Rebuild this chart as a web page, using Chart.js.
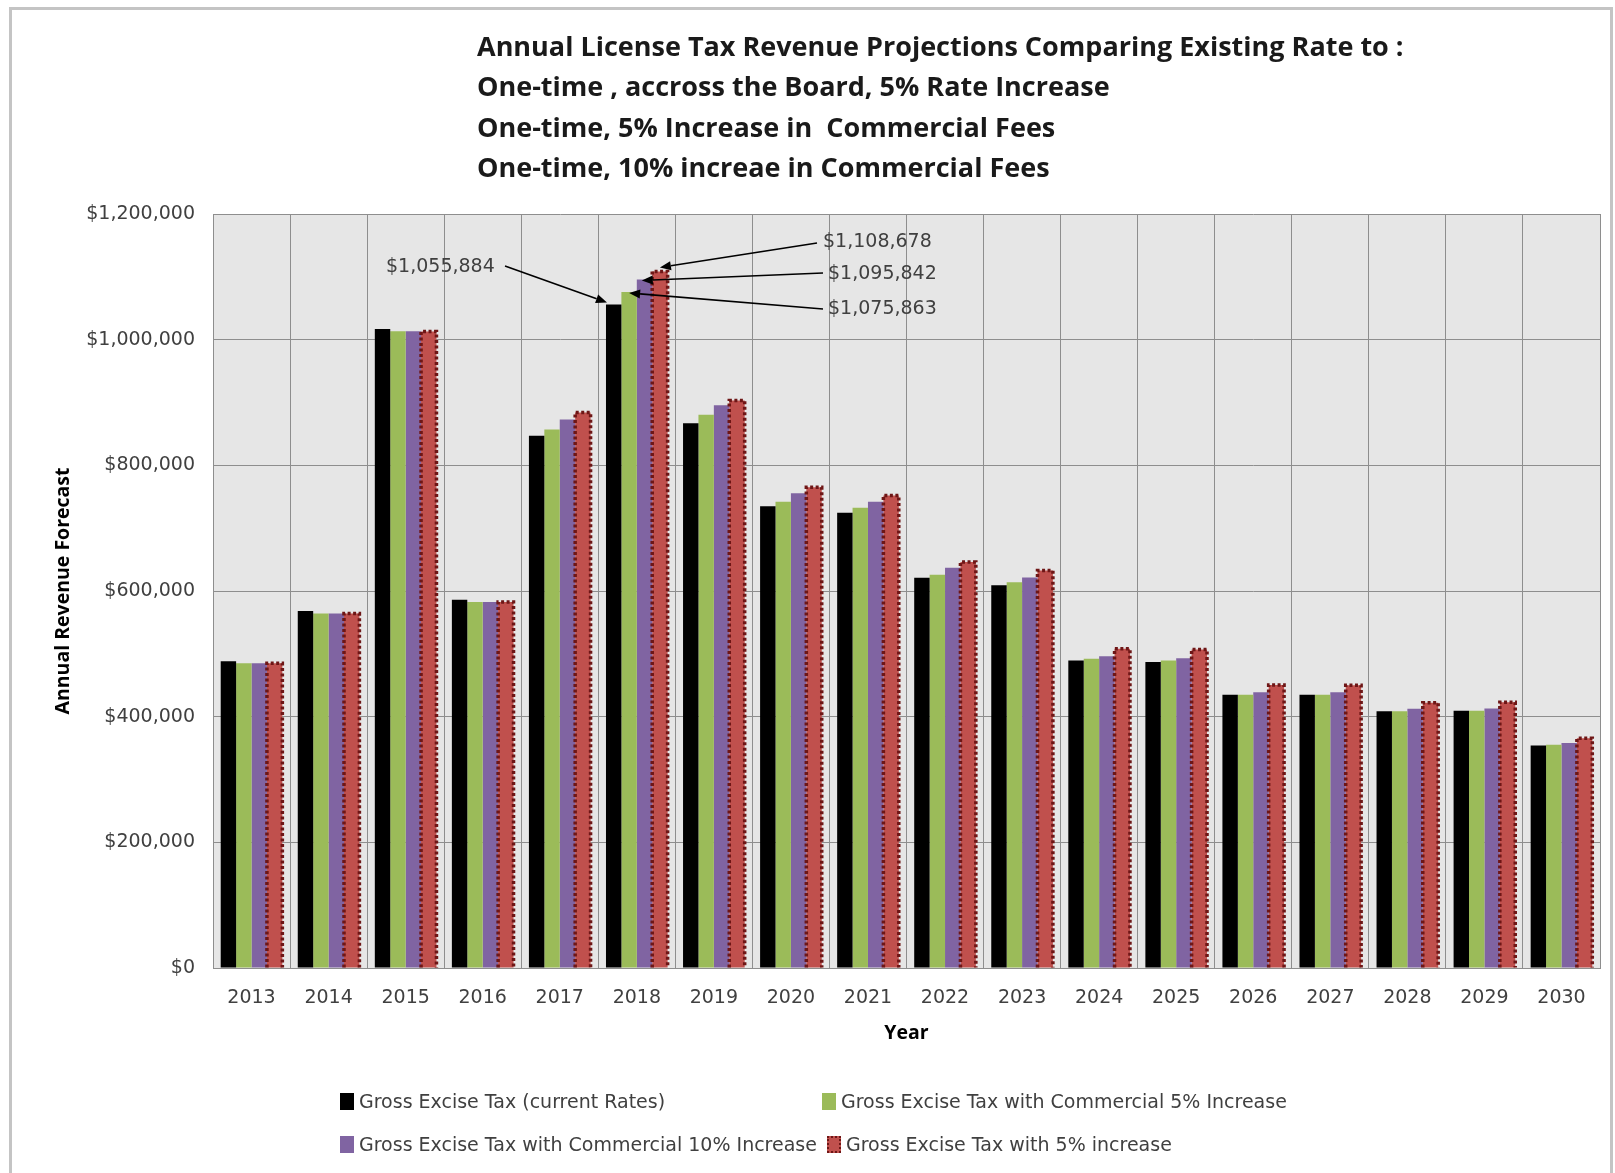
<!DOCTYPE html>
<html>
<head>
<meta charset="utf-8">
<script src="https://cdn.jsdelivr.net/npm/chart.js@4.4.1/dist/chart.umd.min.js"></script>
<style>
html,body{margin:0;padding:0;background:#fff;}
#wrap{position:relative;width:1615px;height:1173px;overflow:hidden;background:#fff;}
#frame{position:absolute;left:9px;top:7px;width:1604px;height:1220px;border:3px solid #c4c4c4;box-sizing:border-box;}
#chart{position:absolute;left:0;top:0;}
#title{position:absolute;left:477px;top:26px;font-family:"Open Sans";font-weight:bold;font-size:27px;line-height:40.4px;color:#1a1a1a;white-space:nowrap;}
.lg{position:absolute;height:24px;display:flex;align-items:center;font-family:"DejaVu Sans";font-size:19px;color:#404040;white-space:nowrap;}
.sw{display:inline-block;width:14px;height:17px;margin-right:5px;box-sizing:border-box;}
</style>
</head>
<body>
<div id="wrap">
  <div id="frame"></div>
  <canvas id="chart" width="1615" height="1173"></canvas>
  <div id="title"></div>
  <div id="legend"></div>
</div>
<script>
// ---- data ----
const titleLines = [
  "Annual License Tax Revenue Projections Comparing Existing Rate to :",
  "One-time , accross the Board, 5% Rate Increase",
  "One-time, 5% Increase in  Commercial Fees",
  "One-time, 10% increae in Commercial Fees"
];
const years = ["2013","2014","2015","2016","2017","2018","2019","2020","2021","2022","2023","2024","2025","2026","2027","2028","2029","2030"];
const seriesNames = [
  "Gross Excise Tax (current Rates)",
  "Gross Excise Tax with Commercial 5% Increase",
  "Gross Excise Tax with Commercial 10% Increase",
  "Gross Excise Tax with 5% increase"
];
const currentRates = [488000, 568000, 1017000, 586000, 847000, 1055884, 867000, 735000, 724500, 621000, 609000, 489500, 487000, 435000, 435000, 408500, 409500, 354000];
const commercial5  = [485000, 564000, 1013500, 582500, 857000, 1075863, 880500, 742000, 732500, 626000, 614000, 492000, 489500, 435000, 435000, 408500, 409500, 355500];
const commercial10 = [485000, 564000, 1013500, 582500, 873000, 1095842, 895500, 755500, 742000, 637000, 621500, 496000, 493000, 439000, 439000, 412500, 413000, 358000];
const acrossBoard5 = [485000, 564000, 1013000, 582500, 884000, 1108678, 903000, 765000, 752000, 646000, 632500, 508000, 507000, 450500, 450000, 422000, 423000, 365500];
const yTicks = [0, 200000, 400000, 600000, 800000, 1000000, 1200000];
const xTitle = "Year";
const yTitle = "Annual Revenue Forecast";

const colors = ["#000000", "#9BBB59", "#8064A2", "#C0504D"];
const fmt = v => "$" + Math.round(v).toLocaleString("en-US");

document.getElementById("title").innerHTML = titleLines.map(t => t.replace(/  /g, " &nbsp;")).join("<br>");

// legend (HTML, built from series names)
const legendPos = [[340, 1101], [822, 1101], [340, 1144], [827, 1144]];
const lg = document.getElementById("legend");
seriesNames.forEach((n, i) => {
  const d = document.createElement("div");
  d.className = "lg";
  d.style.left = legendPos[i][0] + "px";
  d.style.top = (legendPos[i][1] - 12) + "px";
  const s = document.createElement("span");
  s.className = "sw";
  s.style.background = colors[i];
  if (i === 3) s.style.border = "2px dotted #6e1616";
  d.appendChild(s);
  d.appendChild(document.createTextNode(n));
  lg.appendChild(d);
});

const plotBg = {
  id: "plotBg",
  beforeDraw(chart) {
    const {ctx, chartArea: a} = chart;
    ctx.save();
    ctx.fillStyle = "#e6e6e6";
    ctx.fillRect(a.left, a.top, a.right - a.left, a.bottom - a.top);
    ctx.restore();
  }
};

const dottedBars = {
  id: "dottedBars",
  afterDatasetsDraw(chart) {
    const ctx = chart.ctx;
    const meta = chart.getDatasetMeta(3);
    ctx.save();
    ctx.strokeStyle = "#6e1616";
    ctx.lineWidth = 3.5;
    ctx.setLineDash([3, 2.5]);
    meta.data.forEach(el => {
      const p = el.getProps(["x", "y", "base", "width"], true);
      ctx.beginPath();
      ctx.moveTo(p.x - p.width / 2, p.base);
      ctx.lineTo(p.x - p.width / 2, p.y);
      ctx.lineTo(p.x + p.width / 2, p.y);
      ctx.lineTo(p.x + p.width / 2, p.base);
      ctx.stroke();
    });
    ctx.restore();
  }
};

function arrow(ctx, x1, y1, x2, y2) {
  const ang = Math.atan2(y2 - y1, x2 - x1);
  const L = 11, W = 4.5;
  const bx = x2 - L * Math.cos(ang), by = y2 - L * Math.sin(ang);
  ctx.beginPath();
  ctx.moveTo(x1, y1);
  ctx.lineTo(bx, by);
  ctx.stroke();
  ctx.beginPath();
  ctx.moveTo(x2, y2);
  ctx.lineTo(bx + W * Math.sin(ang), by - W * Math.cos(ang));
  ctx.lineTo(bx - W * Math.sin(ang), by + W * Math.cos(ang));
  ctx.closePath();
  ctx.fill();
}

const callouts = {
  id: "callouts",
  afterDraw(chart) {
    const ctx = chart.ctx;
    const idx = years.indexOf("2018");
    const specs = [
      {ds: 0, tx: 386, ty: 267, lx: 505, ly: 266, tip: (p) => [p.x - p.width / 2 + 1, p.y - 2]},
      {ds: 3, tx: 823, ty: 242, lx: 817, ly: 243, tip: (p) => [p.x, p.y - 4]},
      {ds: 2, tx: 828, ty: 274, lx: 823, ly: 273, tip: (p) => [p.x - p.width / 2 + 5, p.y + 1]},
      {ds: 1, tx: 828, ty: 309, lx: 823, ly: 309, tip: (p) => [p.x, p.y + 1]}
    ];
    ctx.save();
    ctx.font = '19px "DejaVu Sans"';
    ctx.textBaseline = "middle";
    ctx.textAlign = "left";
    specs.forEach(s => {
      const el = chart.getDatasetMeta(s.ds).data[idx];
      const p = el.getProps(["x", "y", "width"], true);
      const value = chart.data.datasets[s.ds].data[idx];
      ctx.fillStyle = "#404040";
      ctx.fillText(fmt(value), s.tx, s.ty);
      ctx.strokeStyle = "#000";
      ctx.fillStyle = "#000";
      ctx.lineWidth = 1.6;
      const [tx, ty] = s.tip(p);
      arrow(ctx, s.lx, s.ly, tx, ty);
    });
    ctx.restore();
  }
};

const seriesData = [currentRates, commercial5, commercial10, acrossBoard5];

new Chart(document.getElementById("chart"), {
  type: "bar",
  data: {
    labels: years,
    datasets: seriesData.map((d, i) => ({
      label: seriesNames[i],
      data: d,
      backgroundColor: colors[i],
      borderWidth: 0,
      barPercentage: 1.0,
      categoryPercentage: 0.8
    }))
  },
  options: {
    responsive: false,
    animation: false,
    devicePixelRatio: 1,
    layout: {padding: {top: 214, left: 50, right: 15, bottom: 128}},
    plugins: {
      legend: {display: false},
      title: {display: false},
      tooltip: {enabled: false}
    },
    scales: {
      x: {
        afterFit: (scale) => { scale.height = 77; },
        grid: {color: "#8e8e8e", lineWidth: 1, drawTicks: false, offset: true},
        border: {color: "#8e8e8e"},
        ticks: {font: {family: "DejaVu Sans", size: 19}, color: "#404040", padding: 19},
        title: {display: true, text: xTitle, font: {family: "Open Sans", weight: "bold", size: 19.5}, color: "#000", padding: {top: 0, bottom: 0}}
      },
      y: {
        min: yTicks[0],
        max: yTicks[yTicks.length - 1],
        afterBuildTicks: (scale) => { scale.ticks = yTicks.map(v => ({value: v})); },
        afterFit: (scale) => { scale.width = 163; },
        grid: {color: "#8e8e8e", lineWidth: 1, drawTicks: false},
        border: {color: "#8e8e8e"},
        ticks: {font: {family: "DejaVu Sans", size: 19}, color: "#404040", padding: 18, callback: (v) => fmt(v)},
        title: {display: true, text: yTitle, font: {family: "Open Sans", weight: "bold", size: 19.5}, color: "#000", padding: {top: 2, bottom: 0}}
      }
    }
  },
  plugins: [plotBg, dottedBars, callouts]
});
</script>
</body>
</html>
